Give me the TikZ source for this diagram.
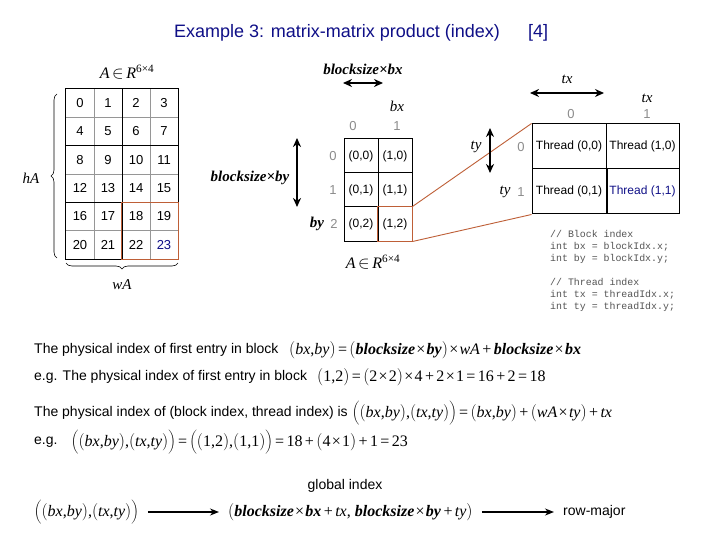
\documentclass[tikz,border=0pt]{standalone}
\usepackage{fontspec}
\setmainfont{Liberation Sans}
\newfontfamily\tms{Liberation Serif}
\newfontfamily\codefont{Liberation Mono}
\usetikzlibrary{arrows.meta,decorations.pathreplacing}
\definecolor{titleblue}{RGB}{15,15,135}
\definecolor{idxgray}{RGB}{140,140,140}
\definecolor{gridgray}{RGB}{150,150,150}
\definecolor{linkbrown}{RGB}{190,95,55}
\definecolor{codegray}{RGB}{85,85,85}
\newcommand{\fsz}[1]{\fontsize{#1}{#1}\selectfont}
\newcommand{\vi}[1]{\textit{#1}}
\newcommand{\vb}[1]{\textbf{\textit{#1}}}
\newcommand{\lp}{$\Bigl($}
\newcommand{\rp}{$\Bigr)$}
\newcommand{\Lp}{$\biggl($}
\newcommand{\Rp}{$\biggr)$}
\newcommand{\ox}{\kern.08em×\kern.08em}
\newcommand{\oeq}{\kern.15em=\kern.15em}
\newcommand{\opl}{\kern.15em+\kern.15em}
\tikzset{
  txt/.style={inner sep=1pt,font=\fsz{14}},
  eq/.style={inner sep=1pt,font=\tms\fsz{16}},
  lbl/.style={inner sep=1pt,font=\tms\itshape\fsz{15}},
  idx/.style={inner sep=1pt,text=idxgray,font=\fsz{13}},
  code/.style={inner sep=0pt,anchor=north west,align=left,text=codegray,font=\codefont\fontsize{9.9}{12}\selectfont},
  cell/.style={minimum width=28pt,minimum height=28.33pt,inner sep=0pt,font=\fsz{13}},
  blockcell/.style={draw,line width=1pt,minimum width=34pt,minimum height=34pt,inner sep=0pt,font=\fsz{12}},
  threadcell/.style={draw,line width=1pt,minimum height=45pt,inner sep=0pt,font=\fsz{12}},
  span/.style={{Stealth[length=9pt,width=8pt]}-{Stealth[length=9pt,width=8pt]},line width=2.2pt},
  flow/.style={-{Stealth[length=9pt,width=7pt]},line width=1.4pt,shorten <=8pt,shorten >=8pt},
  link/.style={linkbrown,line width=0.9pt},
  brace/.style={decorate,decoration={brace,amplitude=6pt},line width=0.6pt}
}
\begin{document}
\begin{tikzpicture}[x=1pt,y=-1pt]
\useasboundingbox[fill=white] (0,0) rectangle (720,540);
\node[txt,font=\fsz{18},text=titleblue,anchor=west] (title) at (173,33) {Example 3: matrix-matrix product (index)};
\node[txt,font=\fsz{18},text=titleblue,anchor=west] (ref) at (527,33) {[4]};
\node[lbl,font=\tms\itshape\fsz{16}] (Atop) at (127,72) {A\,$\in$\,R\textsuperscript{\upshape 6×4}};
\foreach \r in {0,...,5}
  \foreach \c in {0,...,3} {
    \pgfmathtruncatemacro\n{4*\r+\c}
    \edef\numcol{\ifnum\n=23 titleblue\else black\fi}
    \node[cell,text=\numcol] (m\n) at ({80+28*\c},{103.17+28.33*\r}) {\n};
  }
\draw[gridgray,line width=0.8pt] (m0.north east) -- (m20.south east);
\draw[gridgray,line width=0.8pt] (m2.north east) -- (m22.south east);
\draw[gridgray,line width=0.8pt] (m0.south west) -- (m3.south east);
\draw[gridgray,line width=0.8pt] (m8.south west) -- (m11.south east);
\draw[gridgray,line width=0.8pt] (m16.south west) -- (m19.south east);
\draw[line width=1.1pt] (m1.north east) -- (m21.south east);
\draw[line width=1.1pt] (m4.south west) -- (m7.south east);
\draw[line width=1.1pt] (m12.south west) -- (m15.south east);
\draw[line width=1.1pt] (m0.north west) rectangle (m23.south east);
\draw[link,line width=1.2pt] (m18.north west) rectangle (m23.south east);
\draw[brace] (57,258) -- (57,94);
\node[lbl] (hA) at (31,178) {hA};
\draw[brace] (178,263) -- (66,263);
\node[lbl] (wA) at (122,285) {wA};
\coordinate (bxl) at (343,83);
\coordinate (bxr) at (383,83);
\draw[span] (bxl) -- (bxr);
\node[lbl,font=\tms\bfseries\itshape\fsz{15}] (bsbx) at (363,69) {blocksize×bx};
\node[lbl] (bxlbl) at (397,106) {bx};
\node[idx] (bc0) at (353,126) {0};
\node[idx] (bc1) at (397,126) {1};
\node[blockcell] (b00) at (361,156) {(0,0)};
\node[blockcell] (b10) at (395,156) {(1,0)};
\node[blockcell] (b01) at (361,190) {(0,1)};
\node[blockcell] (b11) at (395,190) {(1,1)};
\node[blockcell] (b02) at (361,224) {(0,2)};
\node[blockcell] (b12) at (395,224) {(1,2)};
\draw[link,line width=1.2pt] (b12.north west) rectangle (b12.south east);
\node[idx] (br0) at (333,156) {0};
\node[idx] (br1) at (333,190) {1};
\node[idx] (br2) at (334,224) {2};
\node[lbl,font=\tms\bfseries\itshape\fsz{15}] (bylbl) at (317,224) {by};
\coordinate (byt) at (297,138);
\coordinate (byb) at (297,207);
\draw[span] (byt) -- (byb);
\node[lbl,font=\tms\bfseries\itshape\fsz{15}] (bsby) at (250,178) {blocksize×by};
\node[lbl,font=\tms\itshape\fsz{16}] (Amid) at (373,262) {A\,$\in$\,R\textsuperscript{\upshape 6×4}};
\node[threadcell,minimum width=74pt] (t00) at (569,146.5) {Thread (0,0)};
\node[threadcell,minimum width=73pt] (t10) at (642.5,146.5) {Thread (1,0)};
\node[threadcell,minimum width=74pt] (t01) at (569,191.5) {Thread (0,1)};
\node[threadcell,minimum width=73pt,text=titleblue] (t11) at (642.5,191.5) {Thread (1,1)};
\draw[line width=2pt] (t01.north east) -- (t01.south east);
\draw[link] (b12.north east) -- (t00.north west);
\draw[link] (b12.south east) -- (t01.south west);
\node[lbl] (txtop) at (567,79) {tx};
\coordinate (txl) at (530,93);
\coordinate (txr) at (604,93);
\draw[span] (txl) -- (txr);
\node[lbl] (txlbl) at (647,98) {tx};
\node[idx] (tc0) at (571,114) {0};
\node[idx] (tc1) at (647,114) {1};
\node[lbl] (tyleft) at (476,147) {ty};
\coordinate (tyt) at (490,128);
\coordinate (tyb) at (490,173);
\draw[span] (tyt) -- (tyb);
\node[idx] (tr0) at (521,147) {0};
\node[lbl] (tylbl) at (505,192) {ty};
\node[idx] (tr1) at (521,192) {1};
\node[code] (blockcode) at (550,230) {// Block index\\int bx = blockIdx.x;\\int by = blockIdx.y;};
\node[code] (threadcode) at (550,278) {// Thread index\\int tx = threadIdx.x;\\int ty = threadIdx.y;};
\node[txt,anchor=west] (p1) at (33,350) {The physical index of first entry in block};
\node[eq,anchor=west] (f1) at (288,350) {\lp\vi{bx},\vi{by}\rp\oeq\lp\vb{blocksize}\ox\vb{by}\rp\ox\vi{wA}\opl\vb{blocksize}\ox\vb{bx}};
\node[txt,anchor=west] (p2) at (33,377) {e.g. The physical index of first entry in block};
\node[eq,anchor=west] (f2) at (316,377) {\lp1,2\rp\oeq\lp2\ox2\rp\ox4\opl2\ox1\oeq16\opl2\oeq18};
\node[txt,anchor=west] (p3) at (33,413) {The physical index of (block index, thread index) is};
\node[eq,anchor=west] (f3) at (351,413) {\Lp\lp\vi{bx},\vi{by}\rp,\lp\vi{tx},\vi{ty}\rp\Rp\oeq\lp\vi{bx},\vi{by}\rp\opl\lp\vi{wA}\ox\vi{ty}\rp\opl\vi{tx}};
\node[txt,anchor=west] (p4) at (33,442) {e.g.};
\node[eq,anchor=west] (f4) at (70,442) {\Lp\lp\vi{bx},\vi{by}\rp,\lp\vi{tx},\vi{ty}\rp\Rp\oeq\Lp\lp1,2\rp,\lp1,1\rp\Rp\oeq18\opl\lp4\ox1\rp\opl1\oeq23};
\node[eq,anchor=west] (pair) at (33,512) {\Lp\lp\vi{bx},\vi{by}\rp,\lp\vi{tx},\vi{ty}\rp\Rp};
\node[eq,anchor=west] (glob) at (227,512) {\lp\vb{blocksize}\ox\vb{bx}\opl\vi{tx}, \vb{blocksize}\ox\vb{by}\opl\vi{ty}\rp};
\node[txt] (globlbl) at (345,486) {global index};
\node[txt,anchor=west] (rowmaj) at (562,512) {row-major};
\draw[flow] (pair.east) -- (glob.west);
\draw[flow] (glob.east) -- (rowmaj.west);
\end{tikzpicture}
\end{document}
